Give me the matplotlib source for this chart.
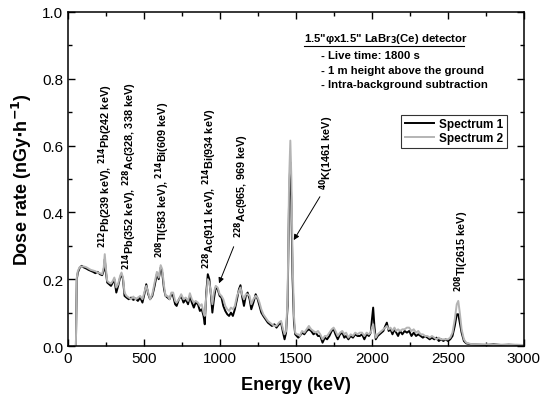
import matplotlib
matplotlib.use("Agg")
import matplotlib.pyplot as plt
from matplotlib.ticker import MultipleLocator
from matplotlib.lines import Line2D

plt.rcParams['font.family'] = ['Liberation Sans', 'DejaVu Sans']
plt.rcParams['mathtext.default'] = 'bf'

energy = [45, 52, 58, 65, 78, 90, 105, 120, 135, 150, 165, 180, 195, 210, 225, 235, 242, 250, 258, 270,
          283, 295, 305, 318, 330, 343, 352, 362, 372, 385, 400, 415, 430, 445, 460, 475, 490, 505, 515, 528,
          540, 555, 570, 585, 597, 610, 620, 632, 642, 655, 668, 680, 692, 705, 715, 730, 745, 760, 775, 790,
          802, 815, 828, 840, 855, 868, 880, 892, 900, 910, 920, 930, 940, 950, 960, 972, 985, 998, 1010, 1022,
          1035, 1048, 1060, 1072, 1085, 1098, 1112, 1125, 1135, 1145, 1158, 1170, 1182, 1195, 1206, 1220, 1235, 1248, 1260, 1272,
          1285, 1300, 1315, 1328, 1342, 1358, 1372, 1388, 1402, 1415, 1425, 1435, 1445, 1455, 1463, 1470, 1478, 1487, 1495, 1505,
          1515, 1525, 1540, 1555, 1570, 1585, 1600, 1615, 1630, 1645, 1660, 1675, 1690, 1705, 1720, 1735, 1748, 1760, 1775, 1790,
          1805, 1818, 1830, 1845, 1860, 1875, 1890, 1905, 1920, 1935, 1950, 1965, 1980, 1992, 2000, 2008, 2016, 2025, 2038, 2050,
          2062, 2075, 2088, 2098, 2110, 2122, 2135, 2148, 2160, 2172, 2185, 2200, 2215, 2230, 2245, 2260, 2275, 2290, 2305, 2320,
          2335, 2350, 2365, 2380, 2395, 2410, 2425, 2440, 2455, 2470, 2485, 2500, 2515, 2530, 2545, 2558, 2568, 2578, 2590, 2605,
          2620, 2650, 2700, 2750, 2800, 2850, 2900, 2950, 3000]

spectrum1 = [0.0, 0.0, 0.2, 0.22, 0.235, 0.24, 0.235, 0.232, 0.228, 0.225, 0.222, 0.218, 0.222, 0.215, 0.212, 0.225, 0.26, 0.22, 0.19, 0.185,
             0.18, 0.19, 0.2, 0.16, 0.18, 0.205, 0.215, 0.2, 0.15, 0.145, 0.14, 0.145, 0.138, 0.142, 0.135, 0.145, 0.13, 0.16, 0.185, 0.155,
             0.14, 0.15, 0.18, 0.215, 0.2, 0.235, 0.22, 0.17, 0.15, 0.145, 0.14, 0.155, 0.15, 0.125, 0.12, 0.14, 0.15, 0.13, 0.14, 0.125,
             0.15, 0.13, 0.115, 0.13, 0.125, 0.105, 0.11, 0.09, 0.065, 0.16, 0.215, 0.2, 0.155, 0.1, 0.14, 0.175, 0.17, 0.15, 0.145, 0.12,
             0.105, 0.095, 0.09, 0.1, 0.09, 0.11, 0.14, 0.17, 0.182, 0.15, 0.12, 0.15, 0.16, 0.14, 0.11, 0.13, 0.155, 0.14, 0.12, 0.1,
             0.09, 0.08, 0.07, 0.065, 0.06, 0.065, 0.055, 0.065, 0.07, 0.04, 0.02, 0.04, 0.12, 0.45, 0.55, 0.42, 0.2, 0.07, 0.035, 0.03,
             0.025, 0.03, 0.04, 0.035, 0.045, 0.05, 0.045, 0.035, 0.04, 0.03, 0.03, 0.01, 0.025, 0.02, 0.03, 0.045, 0.05, 0.035, 0.02, 0.035,
             0.04, 0.025, 0.03, 0.02, 0.03, 0.025, 0.035, 0.03, 0.03, 0.035, 0.02, 0.035, 0.03, 0.04, 0.08, 0.115, 0.06, 0.02, 0.03, 0.035,
             0.04, 0.045, 0.06, 0.07, 0.045, 0.05, 0.035, 0.05, 0.04, 0.03, 0.045, 0.035, 0.045, 0.04, 0.045, 0.03, 0.04, 0.03, 0.035, 0.03,
             0.025, 0.03, 0.025, 0.02, 0.025, 0.02, 0.025, 0.015, 0.02, 0.015, 0.02, 0.015, 0.02, 0.03, 0.06, 0.095, 0.095, 0.07, 0.04, 0.015,
             0.008, 0.005, 0.004, 0.003, 0.005, 0.003, 0.004, 0.003, 0.003]

spectrum2 = [0.0, 0.0, 0.205, 0.225, 0.237, 0.238, 0.238, 0.236, 0.232, 0.228, 0.226, 0.224, 0.22, 0.218, 0.215, 0.235, 0.275, 0.23, 0.195, 0.19,
             0.187, 0.195, 0.205, 0.175, 0.185, 0.21, 0.22, 0.205, 0.16, 0.15, 0.145, 0.14, 0.148, 0.14, 0.145, 0.15, 0.14, 0.165, 0.18, 0.16,
             0.14, 0.155, 0.19, 0.222, 0.205, 0.242, 0.23, 0.18, 0.15, 0.15, 0.14, 0.16, 0.16, 0.135, 0.13, 0.14, 0.155, 0.14, 0.145, 0.135,
             0.158, 0.14, 0.13, 0.135, 0.13, 0.12, 0.125, 0.1, 0.09, 0.15, 0.2, 0.19, 0.16, 0.125, 0.16, 0.18, 0.175, 0.155, 0.15, 0.14,
             0.12, 0.11, 0.105, 0.115, 0.11, 0.12, 0.15, 0.165, 0.175, 0.155, 0.14, 0.155, 0.155, 0.15, 0.125, 0.14, 0.15, 0.145, 0.13, 0.11,
             0.095, 0.085, 0.075, 0.07, 0.065, 0.06, 0.06, 0.07, 0.075, 0.05, 0.035, 0.045, 0.14, 0.5, 0.615, 0.5, 0.25, 0.09, 0.04, 0.035,
             0.035, 0.03, 0.045, 0.04, 0.05, 0.06, 0.05, 0.045, 0.04, 0.045, 0.035, 0.02, 0.03, 0.03, 0.04, 0.05, 0.055, 0.045, 0.03, 0.04,
             0.045, 0.035, 0.04, 0.025, 0.035, 0.03, 0.04, 0.035, 0.04, 0.04, 0.03, 0.04, 0.035, 0.04, 0.055, 0.065, 0.04, 0.025, 0.035, 0.04,
             0.045, 0.05, 0.055, 0.06, 0.05, 0.055, 0.045, 0.055, 0.045, 0.05, 0.045, 0.05, 0.05, 0.055, 0.055, 0.045, 0.05, 0.04, 0.045, 0.035,
             0.035, 0.03, 0.03, 0.025, 0.03, 0.025, 0.02, 0.025, 0.02, 0.02, 0.02, 0.02, 0.025, 0.04, 0.08, 0.125, 0.135, 0.1, 0.05, 0.02,
             0.01, 0.006, 0.005, 0.005, 0.004, 0.004, 0.003, 0.004, 0.003]

series_labels = ['Spectrum 1', 'Spectrum 2']
peak_labels = [r'$^{212}$Pb(239 keV), $^{214}$Pb(242 keV)',
               r'$^{214}$Pb(352 keV), $^{228}$Ac(328, 338 keV)',
               r'$^{208}$Tl(583 keV), $^{214}$Bi(609 keV)',
               r'$^{228}$Ac(911 keV), $^{214}$Bi(934 keV)',
               r'$^{228}$Ac(965, 969 keV)',
               r'$^{40}$K(1461 keV)',
               r'$^{208}$Tl(2615 keV)']
peak_label_x = [250, 405, 625, 935, 1140, 1700, 2590]
peak_label_y = [0.295, 0.23, 0.265, 0.235, 0.325, 0.47, 0.165]

fig = plt.figure(figsize=(5.5, 4.06), dpi=100)
ax = fig.add_axes([0.1236, 0.1453, 0.829, 0.8227])

ax.plot(energy, spectrum1, color='black', lw=1.4, label=series_labels[0])
ax.plot(energy, spectrum2, color='#b4b4b4', lw=1.4, label=series_labels[1])

ax.set_xlim(0, 3000)
ax.set_ylim(0, 1.0)
ax.xaxis.set_major_locator(MultipleLocator(500))
ax.xaxis.set_minor_locator(MultipleLocator(250))
ax.yaxis.set_major_locator(MultipleLocator(0.2))
ax.yaxis.set_minor_locator(MultipleLocator(0.1))
ax.yaxis.set_major_formatter(matplotlib.ticker.FormatStrFormatter('%.1f'))
ax.tick_params(which='both', direction='in', top=True, right=True, labelsize=11, width=1)
ax.tick_params(which='major', length=5)
ax.tick_params(which='minor', length=3)
for s in ax.spines.values():
    s.set_linewidth(1.1)

ax.set_xlabel('Energy (keV)', fontsize=13, fontweight='bold', labelpad=8)
ax.set_ylabel(r'Dose rate (nGy$\cdot$h$^{-1}$)', fontsize=13, fontweight='bold', labelpad=6)

for lab, x, y in zip(peak_labels, peak_label_x, peak_label_y):
    ax.text(x, y, lab, rotation=90, ha='center', va='bottom', fontsize=7.8, fontweight='bold')

ax.annotate('', xy=(987, 0.18), xytext=(1097, 0.305),
            arrowprops=dict(arrowstyle='-|>', color='black', lw=0.7, mutation_scale=8))
ax.annotate('', xy=(1476, 0.31), xytext=(1667, 0.454),
            arrowprops=dict(arrowstyle='-|>', color='black', lw=0.7, mutation_scale=8))

ax.text(0.517, 0.913, r'1.5"φx1.5" LaBr$_3$(Ce) detector', transform=ax.transAxes,
        fontsize=8.2, fontweight='bold', ha='left', va='baseline')
ax.add_line(Line2D([0.517, 0.868], [0.899, 0.899], transform=ax.transAxes, color='black', lw=0.8))
info = ['- Live time: 1800 s', '- 1 m height above the ground', '- Intra-background subtraction']
for i, t in enumerate(info):
    ax.text(0.555, 0.862 - i * 0.044, t, transform=ax.transAxes, fontsize=8.2,
            fontweight='bold', ha='left', va='baseline')

leg = ax.legend(loc='upper right', bbox_to_anchor=(0.962, 0.692), frameon=True, fancybox=False,
                edgecolor='black', prop={'weight': 'bold', 'size': 8.5},
                handlelength=2.5, borderpad=0.3, labelspacing=0.15, handletextpad=0.4,
                borderaxespad=0)
leg.get_frame().set_linewidth(0.8)

fig.savefig('out.png', dpi=100)
